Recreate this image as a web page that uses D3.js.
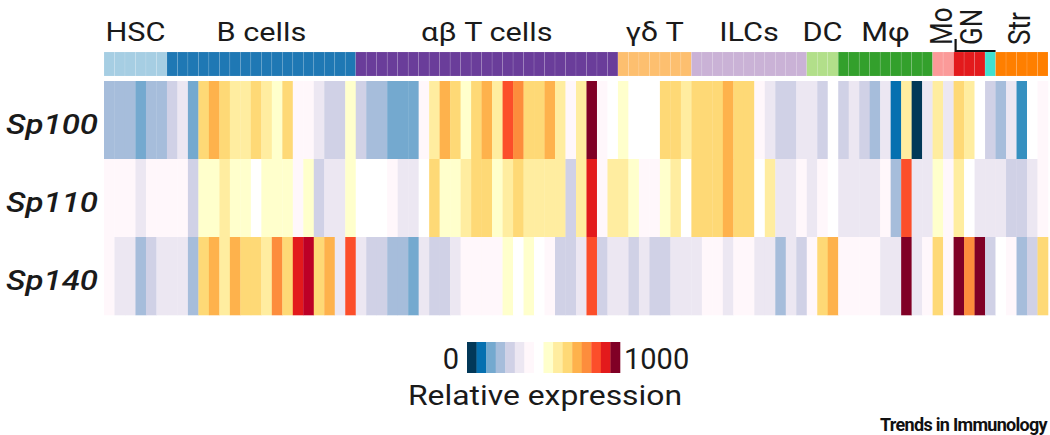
<!DOCTYPE html>
<html>
<head>
<meta charset="utf-8">
<script src="https://cdn.jsdelivr.net/npm/d3@7"></script>
<style>
  html, body { margin: 0; padding: 0; background: #fff; }
  svg { display: block; }
  text { font-family: Roboto, "Noto Sans", sans-serif; fill: #1a1a1a; }
</style>
</head>
<body>
<div id="chart"></div>
<script>
// cell groups along the top, in column order
const groups = ['HSC', 'B cells', 'αβ T cells', 'γδ T', 'ILCs', 'DC', 'Mφ', 'Mo', 'GN', '', 'Str'];
const groupSizes = [6, 18, 25, 7, 11, 3, 9, 2, 3, 1, 5];
const groupColors = ['#a6cee3', '#1f78b4', '#6a3d9a', '#fdbf6f', '#cab2d6', '#b2df8a', '#33a02c', '#fb9a99', '#e31a1c', '#40e0d0', '#ff7f00'];
const rotatedGroups = ['Mo', 'GN', 'Str'];

const genes = ['Sp100', 'Sp110', 'Sp140'];

// relative expression, 0..1000, one value per column
const sp100 = [289,289,289,237,289,289,342,395,237,658,711,658,605,605,658,605,553,658,447,447,
  395,342,342,553,342,289,289,237,237,237,447,605,711,658,553,658,711,605,816,763,
  658,658,711,605,447,605,974,447,500,553,500,500,500,658,658,605,658,658,658,711,
  658,658,447,395,342,342,395,395,342,500,342,395,342,289,395,132,605,26,395,605,
  395,658,605,500,342,289,395,184,500,447];
const sp110 = [447,447,447,395,447,447,447,447,342,553,553,605,553,553,500,553,553,553,447,553,
  342,395,395,553,500,500,500,447,395,395,500,658,553,553,605,658,658,553,605,658,
  605,605,605,605,342,605,868,447,605,605,553,447,447,553,605,500,658,658,658,711,
  658,658,500,605,395,395,447,395,447,500,395,395,395,395,447,289,816,395,395,553,
  447,605,500,395,395,395,342,342,395,447];
const sp140 = [447,395,395,289,342,395,395,395,289,658,711,605,711,658,658,605,763,658,868,921,
  658,711,395,816,395,342,342,289,289,237,395,342,342,395,447,447,447,447,553,500,
  553,500,447,342,342,395,816,342,395,395,342,395,342,342,395,395,395,447,447,395,
  447,447,395,395,289,395,342,447,658,711,447,447,447,447,395,395,974,395,447,658,
  447,974,763,974,342,500,447,289,342,658];
const expression = [sp100, sp110, sp140];

const palette = ['#023858','#045a8d','#0570b0','#3690c0','#74a9cf','#a6bddb','#d0d1e6','#ece7f2','#fff7fb',
  '#ffffff','#ffffcc','#ffeda0','#fed976','#feb24c','#fd8d3c','#fc4e2a','#e31a1c','#bd0026','#800026'];
const legendValues = [26,132,237,289,342,395,447,500,553,605,658,711,763,816,868,974];
const legendMin = '0', legendMax = '1000';

const W = 1050, H = 435;
const SX = 1.18; // the figure is stretched a bit sideways

const svg = d3.select('#chart').append('svg')
  .attr('width', W).attr('height', H);

// one entry per column with its group
const columns = [];
groups.forEach((g, gi) => {
  for (let k = 0; k < groupSizes[gi]; k++) columns.push({ group: gi });
});
columns.forEach((c, i) => c.i = i);

const x = d3.scaleBand().domain(d3.range(columns.length)).range([104, 1048]).padding(0);
const y = d3.scaleBand().domain(genes).range([81, 315]).padding(0);
const color = d3.scaleQuantize().domain([0, 1000]).range(palette);

// group colour bar
svg.append('g').selectAll('rect')
  .data(columns)
  .join('rect')
  .attr('x', d => x(d.i))
  .attr('y', 52)
  .attr('width', x.bandwidth())
  .attr('height', 24)
  .attr('fill', d => groupColors[d.group])
  .attr('stroke', 'rgba(255,255,255,0.18)')
  .attr('stroke-width', 0.6);

// group labels
const starts = d3.cumsum([0].concat(groupSizes));
groups.forEach((g, gi) => {
  if (!g) return;
  const x0 = x(starts[gi]);
  const x1 = x(starts[gi + 1] - 1) + x.bandwidth();
  if (rotatedGroups.includes(g)) {
    const bx = { Mo: 952, GN: 982, Str: 1030 }[g];
    svg.append('text')
      .attr('transform', `translate(${bx},45) scale(${SX},1) rotate(-90)`)
      .attr('font-size', 26)
      .text(g);
  } else {
    svg.append('text')
      .attr('transform', `translate(${(x0 + x1) / 2},41) scale(${SX},1)`)
      .attr('text-anchor', 'middle')
      .attr('font-size', 26)
      .text(g);
  }
});

// bracket above GN
const gnStart = x(starts[8]);
const gnEnd = x(starts[10] - 1) + x.bandwidth();
svg.append('path')
  .attr('d', `M${gnStart + 2},39V51H${gnEnd}`)
  .attr('fill', 'none')
  .attr('stroke', '#111')
  .attr('stroke-width', 2.2);

// heatmap cells
const cells = [];
expression.forEach((row, r) => row.forEach((v, i) => cells.push({ gene: genes[r], i, v })));
svg.append('g').selectAll('rect')
  .data(cells)
  .join('rect')
  .attr('x', d => x(d.i))
  .attr('y', d => y(d.gene))
  .attr('width', x.bandwidth() + 0.3)
  .attr('height', y.bandwidth() + 0.3)
  .attr('fill', d => color(d.v));

// gene labels
svg.append('g').selectAll('text')
  .data(genes)
  .join('text')
  .attr('transform', d => `translate(6,${y(d) + y.bandwidth() / 2 + 14}) scale(${SX},1)`)
  .attr('font-size', 28)
  .attr('font-style', 'italic')
  .attr('font-weight', 500)
  .text(d => d);

// legend
const lx = d3.scaleBand().domain(d3.range(legendValues.length)).range([467, 620]);
svg.append('g').selectAll('rect')
  .data(legendValues)
  .join('rect')
  .attr('x', (d, i) => lx(i))
  .attr('y', 342)
  .attr('width', lx.bandwidth() + 0.3)
  .attr('height', 31)
  .attr('fill', d => color(d));

svg.append('text')
  .attr('x', 459).attr('y', 369)
  .attr('text-anchor', 'end')
  .attr('font-size', 29)
  .text(legendMin);
svg.append('text')
  .attr('x', 624).attr('y', 369)
  .attr('font-size', 29)
  .text(legendMax);
svg.append('text')
  .attr('transform', `translate(545,405) scale(${SX},1)`)
  .attr('text-anchor', 'middle')
  .attr('font-size', 27)
  .text('Relative expression');

svg.append('text')
  .attr('x', 1047).attr('y', 431)
  .attr('text-anchor', 'end')
  .attr('font-family', 'Inter, Roboto, sans-serif')
  .attr('font-weight', 700)
  .attr('font-size', 18)
  .attr('letter-spacing', -0.7)
  .style('fill', '#111')
  .text('Trends in Immunology');
</script>
</body>
</html>
